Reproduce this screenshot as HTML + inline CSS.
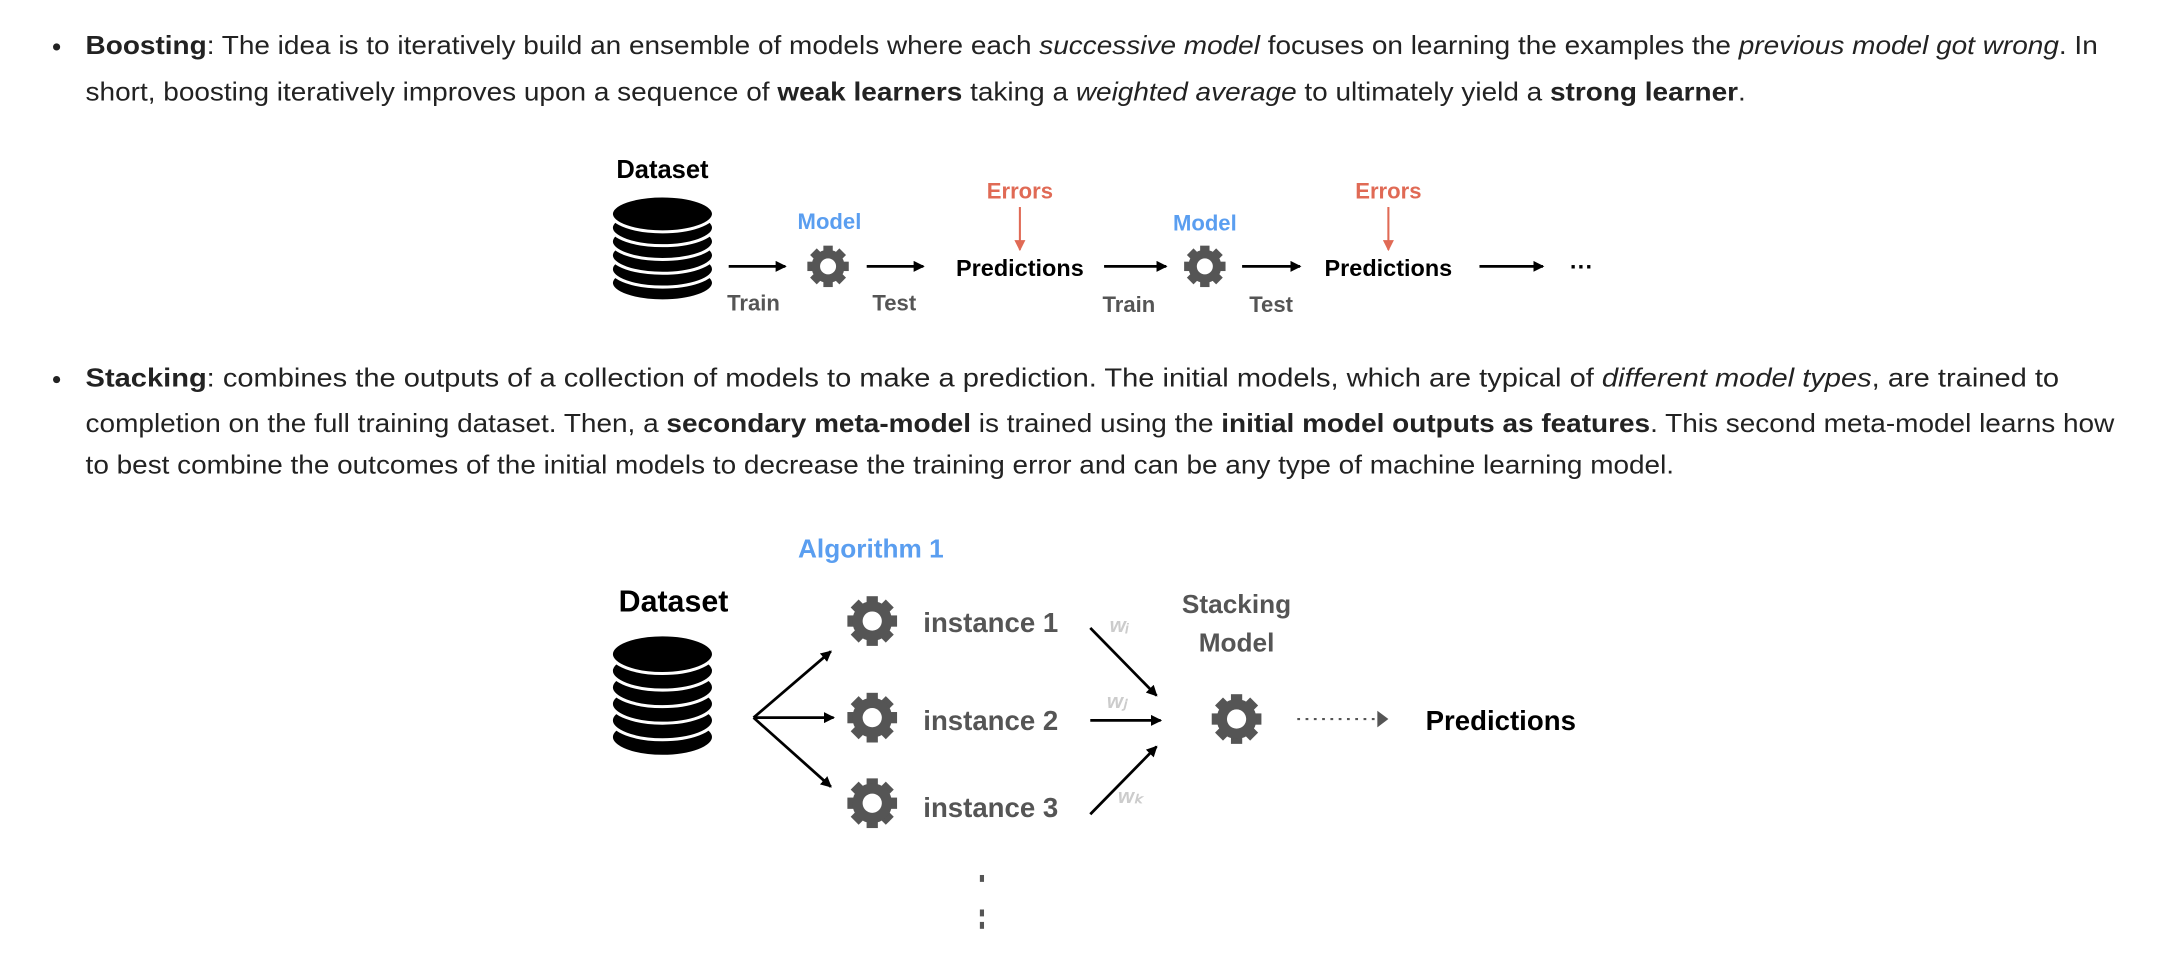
<!DOCTYPE html>
<html><head><meta charset="utf-8"><style>
html,body{margin:0;padding:0;background:#fff;}
svg{display:block;font-family:"Liberation Sans",Arial,sans-serif;}
</style></head><body>
<svg width="2164" height="956" viewBox="0 0 1568 692.7" xmlns="http://www.w3.org/2000/svg">
<defs>
<marker id="ah" markerWidth="8" markerHeight="8" refX="7" refY="4" orient="auto" markerUnits="userSpaceOnUse"><path d="M0,0 L8,4 L0,8 z" fill="#000"/></marker>
<marker id="ahr" markerWidth="8" markerHeight="8" refX="7" refY="4" orient="auto" markerUnits="userSpaceOnUse"><path d="M0,0 L8,4 L0,8 z" fill="#e06a55"/></marker>
<g id="gear">
<g fill="#555">
<rect x="-3.4" y="-15" width="6.8" height="30"/>
<rect x="-3.4" y="-15" width="6.8" height="30" transform="rotate(45)"/>
<rect x="-3.4" y="-15" width="6.8" height="30" transform="rotate(90)"/>
<rect x="-3.4" y="-15" width="6.8" height="30" transform="rotate(135)"/>
<circle r="12"/>
</g>
<circle r="5.8" fill="#fff"/>
</g>
<g id="cyl">
<ellipse cx="0" cy="60" rx="37" ry="13" fill="#000" stroke="#fff" stroke-width="2.2"/>
<ellipse cx="0" cy="50" rx="37" ry="13" fill="#000" stroke="#fff" stroke-width="2.2"/>
<ellipse cx="0" cy="40" rx="37" ry="13" fill="#000" stroke="#fff" stroke-width="2.2"/>
<ellipse cx="0" cy="30" rx="37" ry="13" fill="#000" stroke="#fff" stroke-width="2.2"/>
<ellipse cx="0" cy="20" rx="37" ry="13" fill="#000" stroke="#fff" stroke-width="2.2"/>
<ellipse cx="0" cy="10" rx="37" ry="13" fill="#000" stroke="#fff" stroke-width="2.2"/>
</g>
<g id="cyl2">
<ellipse cx="0" cy="72" rx="37" ry="14" fill="#000" stroke="#fff" stroke-width="2.2"/>
<ellipse cx="0" cy="60" rx="37" ry="14" fill="#000" stroke="#fff" stroke-width="2.2"/>
<ellipse cx="0" cy="48" rx="37" ry="14" fill="#000" stroke="#fff" stroke-width="2.2"/>
<ellipse cx="0" cy="36" rx="37" ry="14" fill="#000" stroke="#fff" stroke-width="2.2"/>
<ellipse cx="0" cy="24" rx="37" ry="14" fill="#000" stroke="#fff" stroke-width="2.2"/>
<ellipse cx="0" cy="12" rx="37" ry="14" fill="#000" stroke="#fff" stroke-width="2.2"/>
</g>
</defs>

<g font-size="19" fill="#222">
<circle cx="41" cy="34" r="2.6"/>
<text x="62" y="39" textLength="1458" lengthAdjust="spacingAndGlyphs"><tspan font-weight="bold">Boosting</tspan>: The idea is to iteratively build an ensemble of models where each <tspan font-style="italic">successive model</tspan> focuses on learning the examples the <tspan font-style="italic">previous model got wrong</tspan>. In</text>
<text x="62" y="73" textLength="1203" lengthAdjust="spacingAndGlyphs">short, boosting iteratively improves upon a sequence of <tspan font-weight="bold">weak learners</tspan> taking a <tspan font-style="italic">weighted average</tspan> to ultimately yield a <tspan font-weight="bold">strong learner</tspan>.</text>
<circle cx="41" cy="275" r="2.6"/>
<text x="62" y="280" textLength="1430" lengthAdjust="spacingAndGlyphs"><tspan font-weight="bold">Stacking</tspan>: combines the outputs of a collection of models to make a prediction. The initial models, which are typical of <tspan font-style="italic">different model types</tspan>, are trained to</text>
<text x="62" y="313" textLength="1470" lengthAdjust="spacingAndGlyphs">completion on the full training dataset. Then, a <tspan font-weight="bold">secondary meta-model</tspan> is trained using the <tspan font-weight="bold">initial model outputs as features</tspan>. This second meta-model learns how</text>
<text x="62" y="343" textLength="1151" lengthAdjust="spacingAndGlyphs">to best combine the outcomes of the initial models to decrease the training error and can be any type of machine learning model.</text>
</g>

<!-- Diagram 1 -->
<g font-weight="bold">
<text x="480" y="129" font-size="18.5" text-anchor="middle" fill="#000">Dataset</text>
<use href="#cyl" x="480" y="145"/>
<line x1="528" y1="193" x2="569" y2="193" stroke="#000" stroke-width="2" marker-end="url(#ah)"/>
<text x="546" y="225" font-size="16" text-anchor="middle" fill="#555">Train</text>
<text x="601" y="166" font-size="16" text-anchor="middle" fill="#5a9ef0">Model</text>
<use href="#gear" x="600" y="193"/>
<line x1="628" y1="193" x2="669" y2="193" stroke="#000" stroke-width="2" marker-end="url(#ah)"/>
<text x="648" y="225" font-size="16" text-anchor="middle" fill="#555">Test</text>
<text x="739" y="144" font-size="16" text-anchor="middle" fill="#e06a55">Errors</text>
<line x1="739" y1="150" x2="739" y2="181" stroke="#e06a55" stroke-width="1.5" marker-end="url(#ahr)"/>
<text x="739" y="200" font-size="17" text-anchor="middle" fill="#000">Predictions</text>
<line x1="800" y1="193" x2="845" y2="193" stroke="#000" stroke-width="2" marker-end="url(#ah)"/>
<text x="818" y="226" font-size="16" text-anchor="middle" fill="#555">Train</text>
<text x="873" y="167" font-size="16" text-anchor="middle" fill="#5a9ef0">Model</text>
<use href="#gear" x="873" y="193"/>
<line x1="900" y1="193" x2="942" y2="193" stroke="#000" stroke-width="2" marker-end="url(#ah)"/>
<text x="921" y="226" font-size="16" text-anchor="middle" fill="#555">Test</text>
<text x="1006" y="144" font-size="16" text-anchor="middle" fill="#e06a55">Errors</text>
<line x1="1006" y1="150" x2="1006" y2="181" stroke="#e06a55" stroke-width="1.5" marker-end="url(#ahr)"/>
<text x="1006" y="200" font-size="17" text-anchor="middle" fill="#000">Predictions</text>
<line x1="1072" y1="193" x2="1118" y2="193" stroke="#000" stroke-width="2" marker-end="url(#ah)"/>
<text x="1146" y="199" font-size="17" text-anchor="middle" fill="#000">···</text>
</g>

<!-- Diagram 2 -->
<g font-weight="bold">
<text x="631" y="404" font-size="19" text-anchor="middle" fill="#5a9ef0">Algorithm 1</text>
<text x="488" y="443" font-size="22" text-anchor="middle" fill="#000">Dataset</text>
<use href="#cyl2" x="480" y="462"/>
<line x1="546" y1="520" x2="602" y2="472" stroke="#000" stroke-width="2" marker-end="url(#ah)"/>
<line x1="546" y1="520" x2="604" y2="520" stroke="#000" stroke-width="2" marker-end="url(#ah)"/>
<line x1="546" y1="520" x2="602" y2="570" stroke="#000" stroke-width="2" marker-end="url(#ah)"/>
<use href="#gear" transform="translate(632,450) scale(1.2)"/>
<use href="#gear" transform="translate(632,520) scale(1.2)"/>
<use href="#gear" transform="translate(632,582) scale(1.2)"/>
<text x="669" y="458" font-size="20" fill="#555">instance 1</text>
<text x="669" y="529" font-size="20" fill="#555">instance 2</text>
<text x="669" y="592" font-size="20" fill="#555">instance 3</text>
<text x="804" y="458" font-size="15" font-style="italic" fill="#ccc">wᵢ</text>
<text x="802" y="513" font-size="15" font-style="italic" fill="#ccc">wⱼ</text>
<text x="810" y="582" font-size="15" font-style="italic" fill="#ccc">wₖ</text>
<line x1="790" y1="455" x2="838" y2="504" stroke="#000" stroke-width="2" marker-end="url(#ah)"/>
<line x1="790" y1="522" x2="841" y2="522" stroke="#000" stroke-width="2" marker-end="url(#ah)"/>
<line x1="790" y1="590" x2="838" y2="541" stroke="#000" stroke-width="2" marker-end="url(#ah)"/>
<text x="896" y="444" font-size="19" text-anchor="middle" fill="#555">Stacking</text>
<text x="896" y="472" font-size="19" text-anchor="middle" fill="#555">Model</text>
<use href="#gear" transform="translate(896,521) scale(1.2)"/>
<line x1="940" y1="521" x2="998" y2="521" stroke="#555" stroke-width="1.5" stroke-dasharray="2,4"/>
<path d="M998,515 L1006,521 L998,527 z" fill="#555"/>
<text x="1033" y="529" font-size="20" fill="#000">Predictions</text>
<rect x="710" y="634" width="3" height="5" fill="#555"/>
<rect x="710" y="659" width="3" height="5" fill="#555"/>
<rect x="710" y="668" width="3" height="5" fill="#555"/>
</g>
</svg>
</body></html>
